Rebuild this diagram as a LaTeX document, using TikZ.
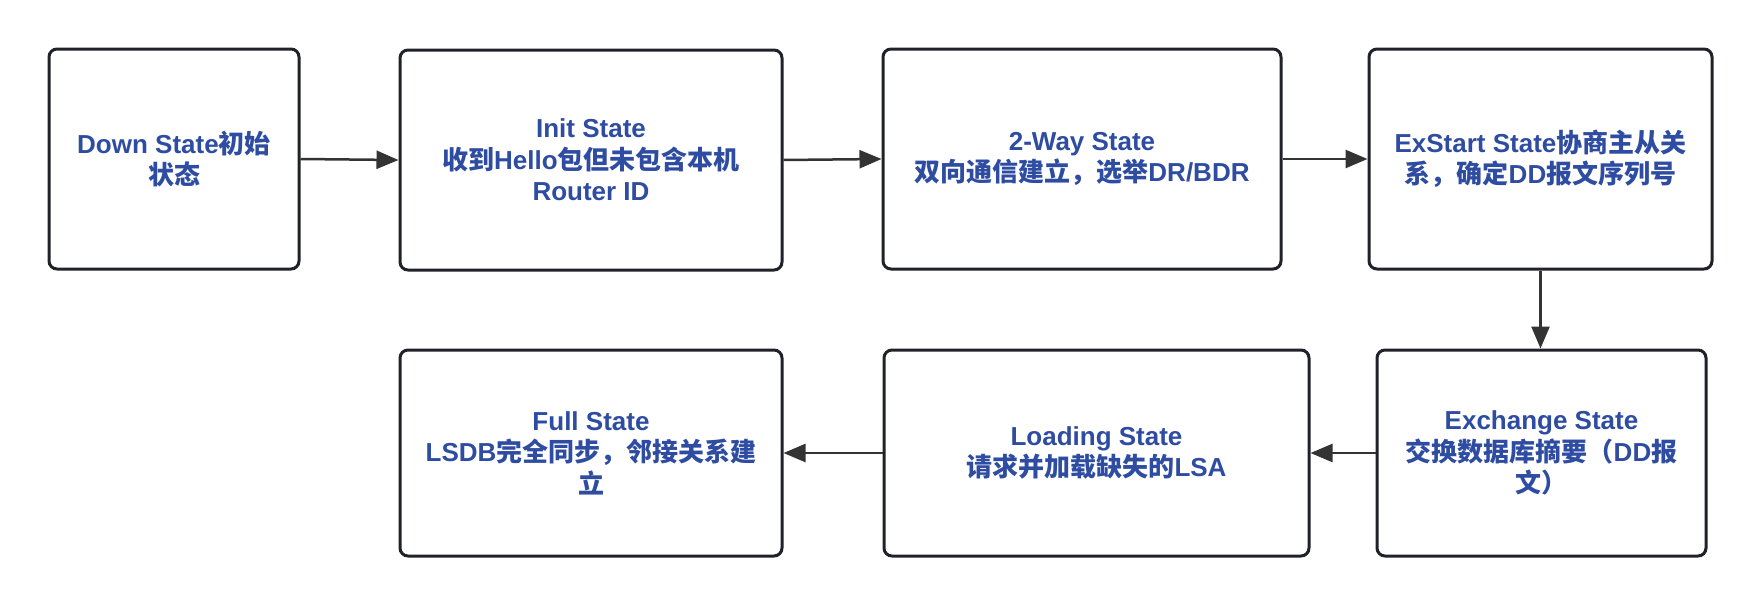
\documentclass[tikz,border=0pt]{standalone}
\usepackage{fontspec}
\setmainfont{Noto Sans CJK SC}
\newfontfamily\lat{Liberation Sans}
\usetikzlibrary{arrows.meta}
\definecolor{txtblue}{RGB}{46,76,161}
\definecolor{boxline}{RGB}{31,35,41}
\definecolor{arrline}{RGB}{51,51,51}
\tikzset{
  stbox/.style={draw=boxline, line width=3pt, rounded corners=8pt, fill=white,
    align=center, text=txtblue, inner sep=0pt,
    font=\fontsize{26}{31.5}\selectfont\bfseries},
  conn/.style={draw=arrline, line width=2.5pt,
    -{Triangle[length=22pt,width=18pt]}}
}
\begin{document}
\begin{tikzpicture}[x=1pt,y=-1pt]
\useasboundingbox[fill=white] (0,0) rectangle (1761,605);
\node[stbox, minimum width=250pt, minimum height=220pt] (b1) at (174,159) {{\lat Down State}初始\\状态};
\node[stbox, minimum width=382pt, minimum height=220pt] (b2) at (591,160) {{\lat Init State}\\收到{\lat Hello}包但未包含本机\\{\lat Router ID}};
\node[stbox, minimum width=398pt, minimum height=220pt] (b3) at (1082,159) {{\lat 2-Way State}\\双向通信建立，选举{\lat DR/BDR}};
\node[stbox, minimum width=343pt, minimum height=220pt] (b4) at (1540.5,159) {{\lat ExStart State}协商主从关\\系，确定{\lat DD}报文序列号};
\node[stbox, minimum width=382pt, minimum height=206pt] (b5) at (591,453) {{\lat Full State}\\{\lat LSDB}完全同步，邻接关系建\\立};
\node[stbox, minimum width=425pt, minimum height=206pt] (b6) at (1096.5,453) {{\lat Loading State}\\请求并加载缺失的{\lat LSA}};
\node[stbox, minimum width=329pt, minimum height=206pt] (b7) at (1541.5,453) {{\lat Exchange State}\\交换数据库摘要（{\lat DD}报\\文）};
\draw[conn] (b1.east) -- (b2.west);
\draw[conn] (b2.east) -- (b3.west);
\draw[conn] (b3.east) -- (b4.west);
\draw[conn] (b4.south) -- (b4.south |- b7.north);
\draw[conn] (b7.west) -- (b6.east);
\draw[conn] (b6.west) -- (b5.east);
\end{tikzpicture}
\end{document}
